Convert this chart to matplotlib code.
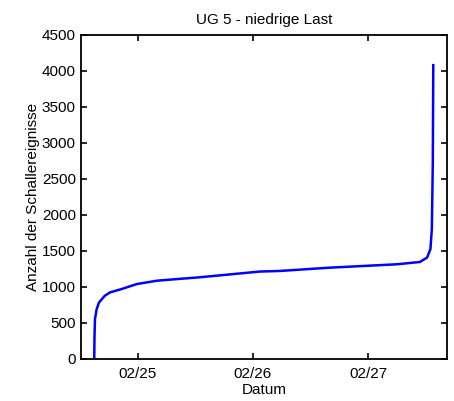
import datetime as dt

import matplotlib
matplotlib.use("Agg")
import matplotlib.dates as mdates
import matplotlib.pyplot as plt

# hours relative to 02/25 00:00, cumulative event count
HOURS = [-9.1, -9.05, -8.95, -8.6, -8.1, -6.9, -5.8, -3.4, -0.2, 4.1, 13.0,
         25.4, 29.5, 40.0, 54.0, 58.8, 60.3, 61.0, 61.3, 61.5, 61.6]
COUNTS = [0, 300, 550, 690, 784, 877, 924, 970, 1040, 1087, 1134,
          1213, 1221, 1267, 1314, 1346, 1407, 1523, 1801, 2730, 4080]
Y_TICKS = list(range(0, 4501, 500))
TITLE = "UG 5 - niedrige Last"

base = dt.datetime(2010, 2, 25)
times = [base + dt.timedelta(hours=h) for h in HOURS]

plt.rcParams["font.family"] = ["Liberation Sans", "DejaVu Sans"]

fig = plt.figure(figsize=(4.54, 4.01), dpi=100)
ax = fig.add_axes([0.178, 0.105, 0.807, 0.808])
ax.plot(times, COUNTS, color="#0000ff", linewidth=1.8)

ax.set_xlim(base - dt.timedelta(hours=11.9), base + dt.timedelta(hours=64.5))
ax.set_ylim(0, 4500)
ax.set_yticks(Y_TICKS)
ax.xaxis.set_major_locator(mdates.DayLocator())
ax.xaxis.set_major_formatter(mdates.DateFormatter("%m/%d"))

ax.tick_params(direction="in", top=True, right=True, length=4, width=1.2, labelsize=11)
ax.tick_params(axis="x", pad=6)
for s in ax.spines.values():
    s.set_linewidth(1.3)

ax.set_title(TITLE, fontsize=11, pad=8)
ax.set_xlabel("Datum", fontsize=11, labelpad=1)
ax.set_ylabel("Anzahl der Schallereignisse", fontsize=11, labelpad=1.5)

fig.savefig("out.png", dpi=100)
